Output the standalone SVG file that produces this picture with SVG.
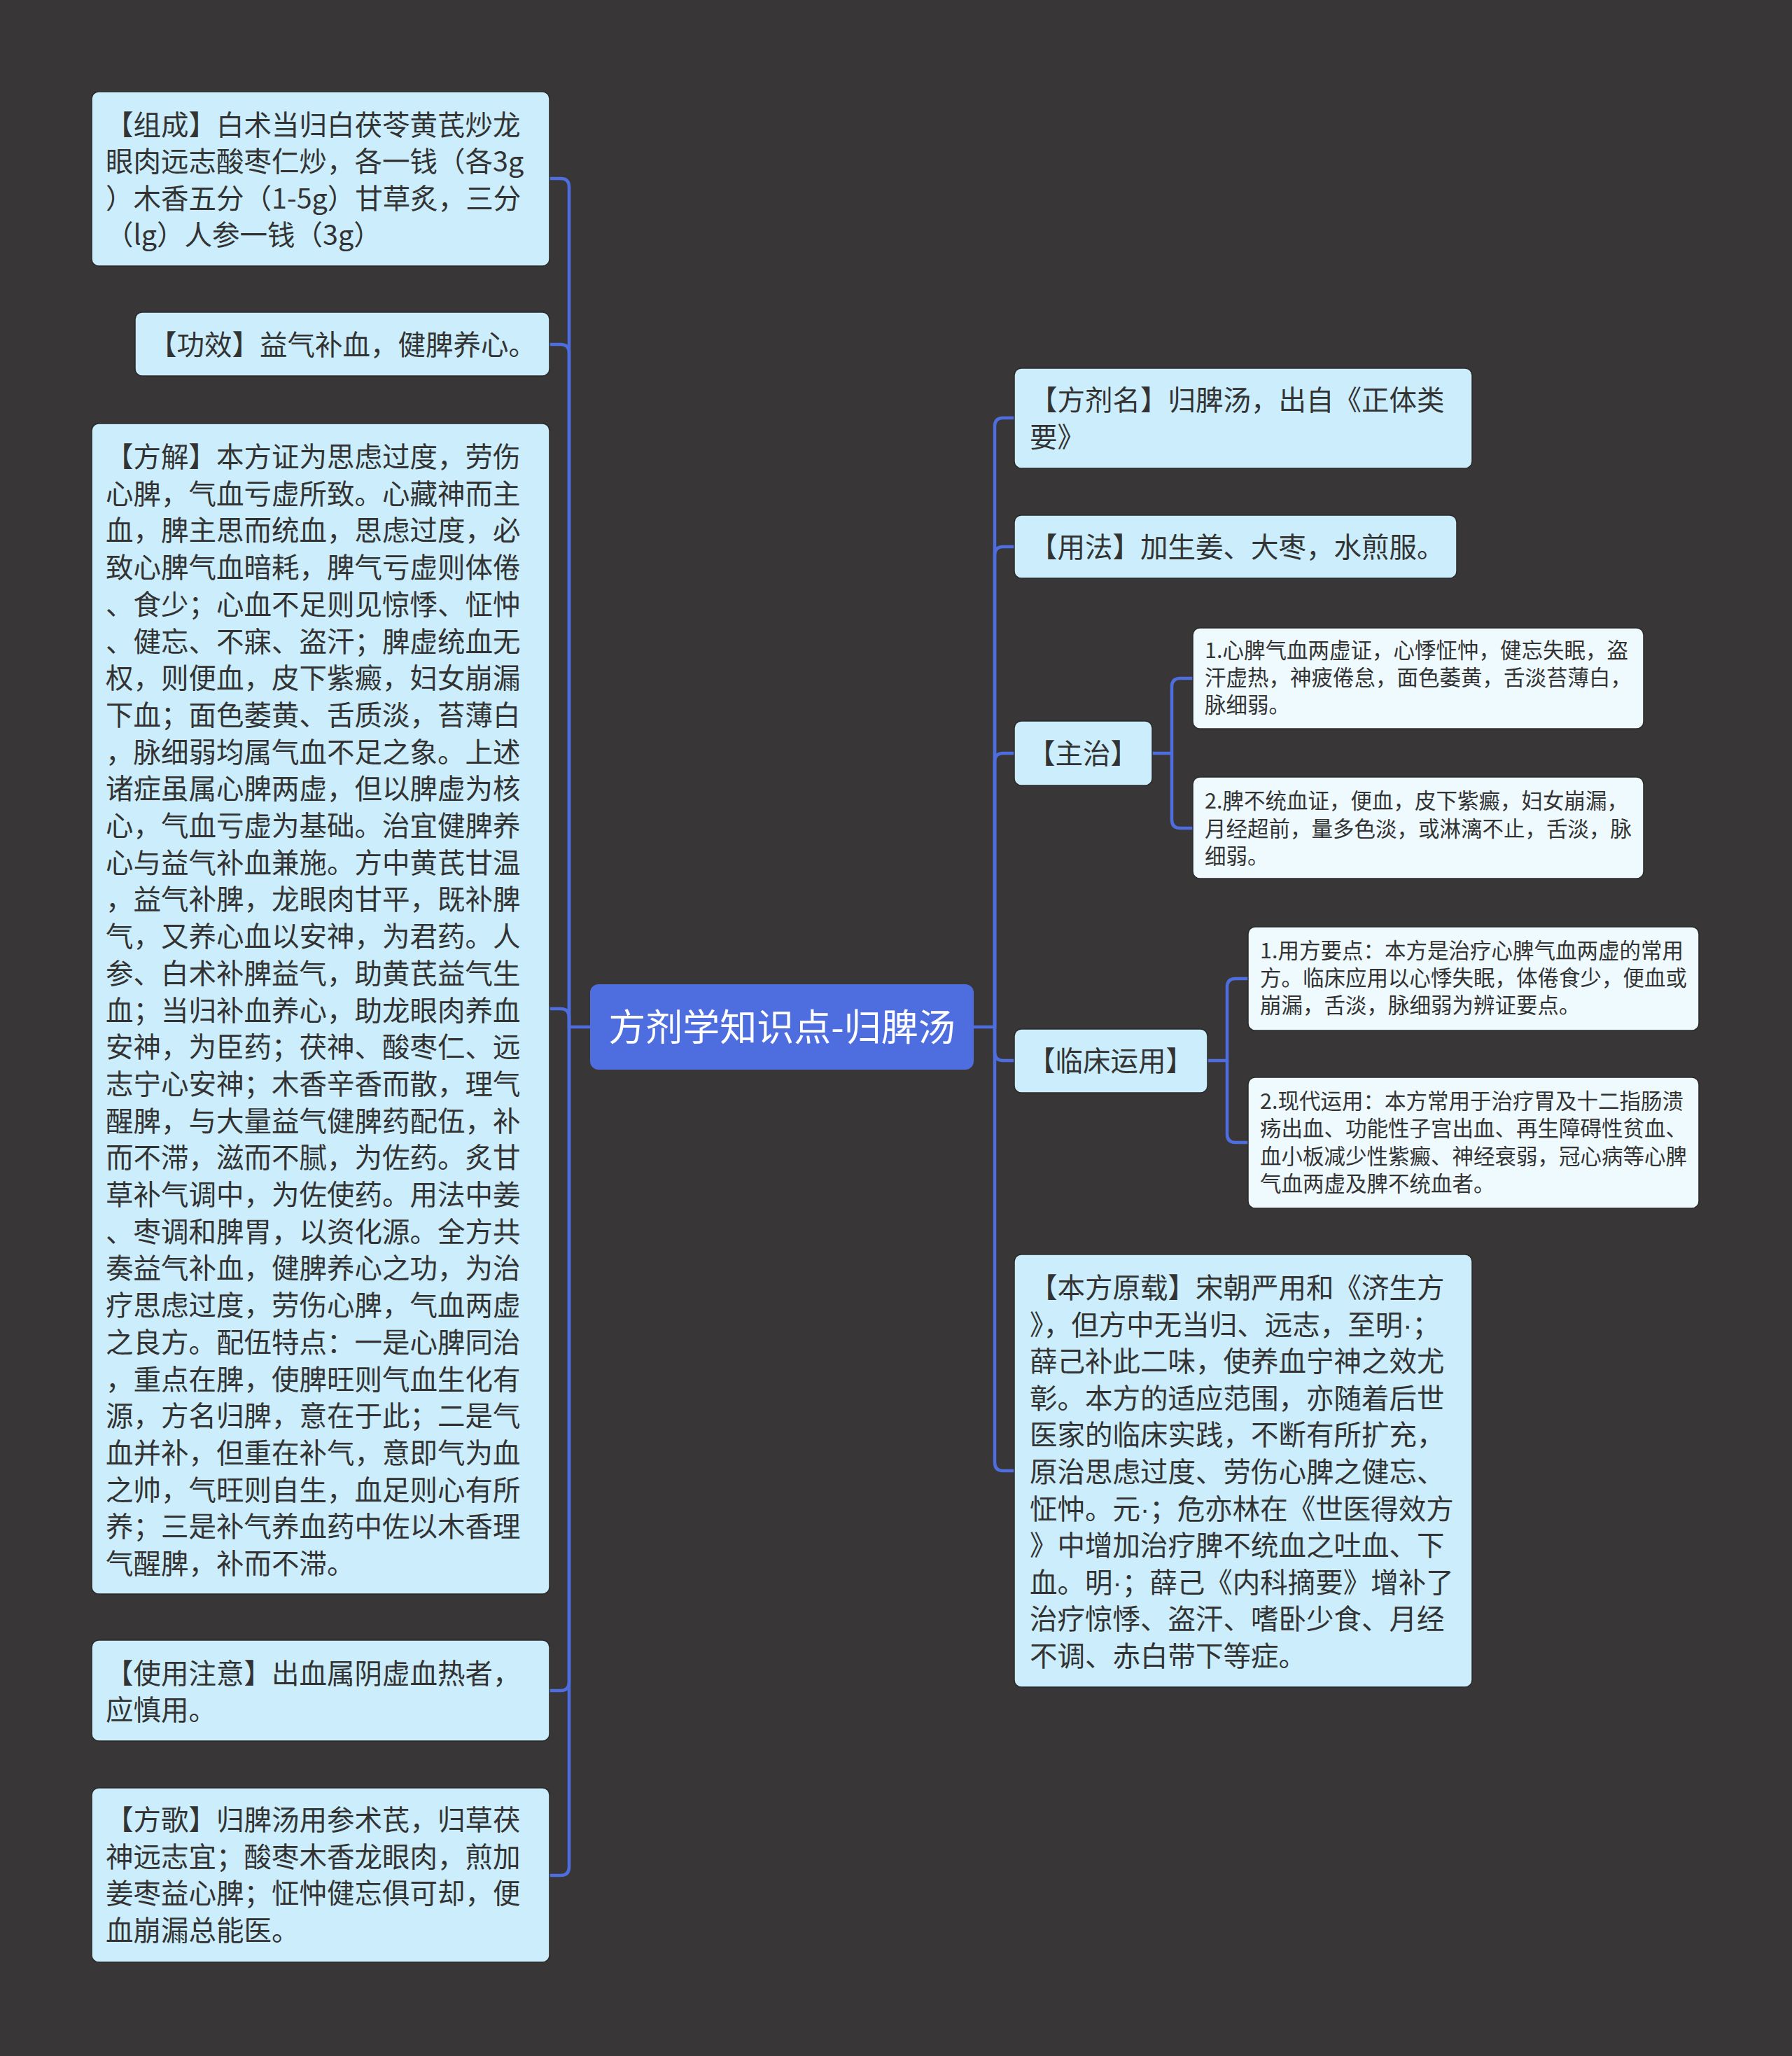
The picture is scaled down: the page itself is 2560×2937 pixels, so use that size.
<svg xmlns="http://www.w3.org/2000/svg" width="2560" height="2937" viewBox="0 0 2560 2937">
<style>
.bg{fill:#383637}
.n{fill:#CCEEFC;stroke:#2a2a2a;stroke-width:1.5}
.s{fill:#EFFAFE;stroke:#2a2a2a;stroke-width:1.5}
.c{fill:#4E6EDF}
.t{font-family:"Noto Sans CJK SC","Noto Sans",sans-serif;font-size:39.5px;fill:#333333}
.ts{font-family:"Noto Sans CJK SC","Noto Sans",sans-serif;font-size:30.5px;fill:#333333}
.tc{font-family:"Noto Sans CJK SC","Noto Sans",sans-serif;font-size:53px;fill:#FFFFFF}
.dot{font-family:"Liberation Sans",sans-serif}
.l{fill:none;stroke:#4E6EDF;stroke-width:4.5}
</style>
<rect class="bg" x="0" y="0" width="2560" height="2937"/>
<g id="connectors">
<path class="l" d="M843 1467 H813 V267 Q813 255 801 255 H785"/>
<path class="l" d="M813 1467 V504 Q813 492 801 492 H785"/>
<path class="l" d="M813 1467 V1453 Q813 1441 801 1441 H785"/>
<path class="l" d="M813 1467 V2403 Q813 2415 801 2415 H785"/>
<path class="l" d="M813 1467 V2667 Q813 2679 801 2679 H785"/>
<path class="l" d="M1391 1467 H1421 V609 Q1421 597 1433 597 H1449"/>
<path class="l" d="M1421 1467 V793 Q1421 781 1433 781 H1449"/>
<path class="l" d="M1421 1467 V1088 Q1421 1076 1433 1076 H1449"/>
<path class="l" d="M1421 1467 V1503 Q1421 1515 1433 1515 H1449"/>
<path class="l" d="M1421 1467 V2089 Q1421 2101 1433 2101 H1449"/>
<path class="l" d="M1646 1076 H1674 V981 Q1674 969 1686 969 H1704"/>
<path class="l" d="M1674 1076 V1171 Q1674 1183 1686 1183 H1704"/>
<path class="l" d="M1725 1515 H1753 V1410 Q1753 1398 1765 1398 H1783"/>
<path class="l" d="M1753 1515 V1620 Q1753 1632 1765 1632 H1783"/>
</g>
<g id="center">
<rect class="c" x="843" y="1406" width="548" height="122" rx="12"/>
<text class="tc" x="1117" y="1487" text-anchor="middle">方剂学知识点-归脾汤</text>
</g>
<g id="node-zucheng">
<rect class="n" x="131" y="131" width="654" height="249" rx="10"/>
<text class="t" x="151"><tspan x="151" y="193">【组成】白术当归白茯苓黄芪炒龙</tspan><tspan x="151" y="245">眼肉远志酸枣仁炒，各一钱（各3g</tspan><tspan x="151" y="298">）木香五分（1-5g）甘草炙，三分</tspan><tspan x="151" y="350">（lg）人参一钱（3g）</tspan></text>
</g>
<g id="node-gongxiao">
<rect class="n" x="193" y="446" width="592" height="91" rx="10"/>
<text class="t" x="213" y="507">【功效】益气补血，健脾养心。</text>
</g>
<g id="node-fangjie">
<rect class="n" x="131" y="605" width="654" height="1672" rx="10"/>
<text class="t">
<tspan x="151" y="667">【方解】本方证为思虑过度，劳伤</tspan>
<tspan x="151" y="719.7">心脾，气血亏虚所致。心藏神而主</tspan>
<tspan x="151" y="772.4">血，脾主思而统血，思虑过度，必</tspan>
<tspan x="151" y="825.1">致心脾气血暗耗，脾气亏虚则体倦</tspan>
<tspan x="151" y="877.8">、食少；心血不足则见惊悸、怔忡</tspan>
<tspan x="151" y="930.5">、健忘、不寐、盗汗；脾虚统血无</tspan>
<tspan x="151" y="983.2">权，则便血，皮下紫癜，妇女崩漏</tspan>
<tspan x="151" y="1035.9">下血；面色萎黄、舌质淡，苔薄白</tspan>
<tspan x="151" y="1088.6">，脉细弱均属气血不足之象。上述</tspan>
<tspan x="151" y="1141.3">诸症虽属心脾两虚，但以脾虚为核</tspan>
<tspan x="151" y="1194">心，气血亏虚为基础。治宜健脾养</tspan>
<tspan x="151" y="1246.7">心与益气补血兼施。方中黄芪甘温</tspan>
<tspan x="151" y="1299.4">，益气补脾，龙眼肉甘平，既补脾</tspan>
<tspan x="151" y="1352.1">气，又养心血以安神，为君药。人</tspan>
<tspan x="151" y="1404.8">参、白术补脾益气，助黄芪益气生</tspan>
<tspan x="151" y="1457.5">血；当归补血养心，助龙眼肉养血</tspan>
<tspan x="151" y="1510.2">安神，为臣药；茯神、酸枣仁、远</tspan>
<tspan x="151" y="1562.9">志宁心安神；木香辛香而散，理气</tspan>
<tspan x="151" y="1615.6">醒脾，与大量益气健脾药配伍，补</tspan>
<tspan x="151" y="1668.3">而不滞，滋而不腻，为佐药。炙甘</tspan>
<tspan x="151" y="1721">草补气调中，为佐使药。用法中姜</tspan>
<tspan x="151" y="1773.7">、枣调和脾胃，以资化源。全方共</tspan>
<tspan x="151" y="1826.4">奏益气补血，健脾养心之功，为治</tspan>
<tspan x="151" y="1879.1">疗思虑过度，劳伤心脾，气血两虚</tspan>
<tspan x="151" y="1931.8">之良方。配伍特点：一是心脾同治</tspan>
<tspan x="151" y="1984.5">，重点在脾，使脾旺则气血生化有</tspan>
<tspan x="151" y="2037.2">源，方名归脾，意在于此；二是气</tspan>
<tspan x="151" y="2089.9">血并补，但重在补气，意即气为血</tspan>
<tspan x="151" y="2142.6">之帅，气旺则自生，血足则心有所</tspan>
<tspan x="151" y="2195.3">养；三是补气养血药中佐以木香理</tspan>
<tspan x="151" y="2248">气醒脾，补而不滞。</tspan>
</text>
</g>
<g id="node-zhuyi">
<rect class="n" x="131" y="2343" width="654" height="144" rx="10"/>
<text class="t"><tspan x="151" y="2405">【使用注意】出血属阴虚血热者，</tspan><tspan x="151" y="2457">应慎用。</tspan></text>
</g>
<g id="node-fangge">
<rect class="n" x="131" y="2554" width="654" height="249" rx="10"/>
<text class="t"><tspan x="151" y="2614">【方歌】归脾汤用参术芪，归草茯</tspan><tspan x="151" y="2667">神远志宜；酸枣木香龙眼肉，煎加</tspan><tspan x="151" y="2719">姜枣益心脾；怔忡健忘俱可却，便</tspan><tspan x="151" y="2772">血崩漏总能医。</tspan></text>
</g>
<g id="node-fangjiming">
<rect class="n" x="1449" y="526" width="654" height="143" rx="10"/>
<text class="t"><tspan x="1471" y="586">【方剂名】归脾汤，出自《正体类</tspan><tspan x="1471" y="639">要》</tspan></text>
</g>
<g id="node-yongfa">
<rect class="n" x="1449" y="736" width="632" height="90" rx="10"/>
<text class="t" x="1471" y="796">【用法】加生姜、大枣，水煎服。</text>
</g>
<g id="node-zhuzhi">
<rect class="n" x="1449" y="1030" width="197" height="92" rx="10"/>
<text class="t" x="1468" y="1091">【主治】</text>
</g>
<g id="node-zhuzhi-1">
<rect class="s" x="1704" y="897" width="644" height="144" rx="10"/>
<text class="ts"><tspan x="1721" y="940">1.心脾气血两虚证，心悸怔忡，健忘失眠，盗</tspan><tspan x="1721" y="979">汗虚热，神疲倦怠，面色萎黄，舌淡苔薄白，</tspan><tspan x="1721" y="1018">脉细弱。</tspan></text>
</g>
<g id="node-zhuzhi-2">
<rect class="s" x="1704" y="1110" width="644" height="145" rx="10"/>
<text class="ts"><tspan x="1721" y="1155">2.脾不统血证，便血，皮下紫癜，妇女崩漏，</tspan><tspan x="1721" y="1195">月经超前，量多色淡，或淋漓不止，舌淡，脉</tspan><tspan x="1721" y="1234">细弱。</tspan></text>
</g>
<g id="node-linchuang">
<rect class="n" x="1449" y="1470" width="276" height="91" rx="10"/>
<text class="t" x="1468" y="1530">【临床运用】</text>
</g>
<g id="node-linchuang-1">
<rect class="s" x="1783" y="1324" width="644" height="148" rx="10"/>
<text class="ts"><tspan x="1800" y="1369">1.用方要点：本方是治疗心脾气血两虚的常用</tspan><tspan x="1800" y="1408">方。临床应用以心悸失眠，体倦食少，便血或</tspan><tspan x="1800" y="1447">崩漏，舌淡，脉细弱为辨证要点。</tspan></text>
</g>
<g id="node-linchuang-2">
<rect class="s" x="1783" y="1539" width="644" height="187" rx="10"/>
<text class="ts"><tspan x="1800" y="1584">2.现代运用：本方常用于治疗胃及十二指肠溃</tspan><tspan x="1800" y="1623">疡出血、功能性子宫出血、再生障碍性贫血、</tspan><tspan x="1800" y="1663">血小板减少性紫癜、神经衰弱，冠心病等心脾</tspan><tspan x="1800" y="1702">气血两虚及脾不统血者。</tspan></text>
</g>
<g id="node-yuanzai">
<rect class="n" x="1449" y="1792" width="654" height="618" rx="10"/>
<text class="t">
<tspan x="1471" y="1854">【本方原载】宋朝严用和《济生方</tspan>
<tspan x="1471" y="1906.6">》，但方中无当归、远志，至明<tspan class="dot">·</tspan>；</tspan>
<tspan x="1471" y="1959.2">薛己补此二味，使养血宁神之效尤</tspan>
<tspan x="1471" y="2011.8">彰。本方的适应范围，亦随着后世</tspan>
<tspan x="1471" y="2064.4">医家的临床实践，不断有所扩充，</tspan>
<tspan x="1471" y="2117">原治思虑过度、劳伤心脾之健忘、</tspan>
<tspan x="1471" y="2169.6">怔忡。元<tspan class="dot">·</tspan>；危亦林在《世医得效方</tspan>
<tspan x="1471" y="2222.2">》中增加治疗脾不统血之吐血、下</tspan>
<tspan x="1471" y="2274.8">血。明<tspan class="dot">·</tspan>；薛己《内科摘要》增补了</tspan>
<tspan x="1471" y="2327.4">治疗惊悸、盗汗、嗜卧少食、月经</tspan>
<tspan x="1471" y="2380">不调、赤白带下等症。</tspan>
</text>
</g>
</svg>
